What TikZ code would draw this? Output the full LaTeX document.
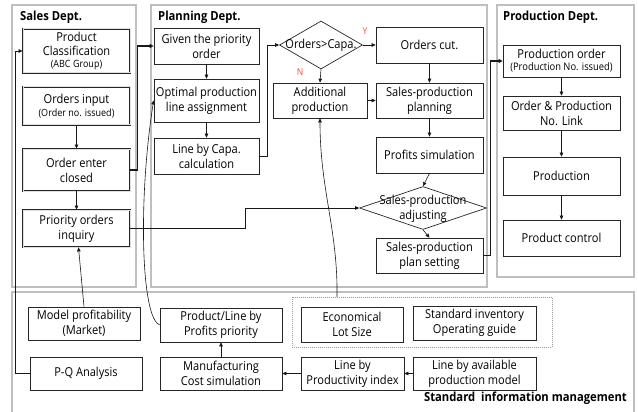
\documentclass[tikz,border=0pt]{standalone}
\usepackage{fontspec}
\setmainfont[FakeStretch=0.9]{Open Sans}
\usetikzlibrary{arrows.meta,shapes.geometric,calc}

\newcommand{\smalltxt}{\fontsize{10}{11}\selectfont}
\tikzset{
  panel/.style={draw=black!25, line width=1.1pt},
  box/.style={draw=black!85, line width=0.7pt, align=center, inner sep=0.5pt,
    font=\fontsize{12.3}{15}\selectfont},
  salesbox/.style={box, line width=0.85pt, double=white!88!black, double distance=1pt},
  dia/.style={diamond, draw=black!85, line width=0.7pt, inner sep=0pt},
  diatext/.style={align=center, inner sep=0pt, font=\fontsize{12.3}{15}\selectfont},
  title/.style={font=\fontsize{12.5}{15}\selectfont\bfseries, inner sep=0pt, anchor=west},
  yn/.style={font=\fontsize{9.5}{10}\selectfont, text=red!75!white, inner sep=0pt},
  arr/.style={draw=black!90, line width=0.6pt, -{Triangle[length=4pt,width=3.6pt]}},
  thickarr/.style={arr, line width=1.5pt, -{Triangle[length=4pt,width=4pt]}},
}
% box from its corners: (x1,y1) to (x2,y2) in pixels
\newcommand{\cornerbox}[6]{%
  \node[#1, minimum width={#4-#2}, minimum height={#5-#3}] (#6) at ({(#2+#4)/2},{(#3+#5)/2})}

\begin{document}
\begin{tikzpicture}[x=1pt, y=-1pt]
\useasboundingbox (0,0) rectangle (638,412);

% department panels
\draw[panel] (12,5) rectangle (136,287);
\draw[panel] (151,5) rectangle (487,287);
\draw[panel] (497,5) rectangle (634,277);
\begin{scope}
\clip (0,0) rectangle (638,412);
\draw[panel] (12,292) rectangle (634,430);
\end{scope}

\node[title] (tSales) at (20,17) {Sales Dept.};
\node[title] (tPlan) at (158,17) {Planning Dept.};
\node[title] (tProd) at (503,17) {Production Dept.};
\node[title, anchor=east] (tStd) at (627,398) {Standard\ \ information management};

% Sales Dept.
\cornerbox{salesbox}{23}{29}{130}{73}{pc} {Product\\[-1pt]Classification\\[-3pt]{\smalltxt (ABC Group)}};
\cornerbox{salesbox}{23}{87}{130}{125}{oi} {Orders input\\[-2pt]{\smalltxt (Order no. issued)}};
\cornerbox{salesbox}{23}{149}{130}{191}{oec} {Order enter\\closed};
\cornerbox{salesbox}{23}{210}{130}{247}{poi} {Priority orders\\inquiry};

% Planning Dept.
\cornerbox{box}{154}{28}{259}{64}{gp} {Given the priority\\order};
\cornerbox{box}{154}{79}{259}{122}{opl} {Optimal production\\line assignment};
\cornerbox{box}{154}{138}{259}{174}{lbc} {Line by Capa.\\calculation};
\node[dia, minimum width=83pt, minimum height=48pt] (d1) at (321,45) {};
\node[diatext] (d1t) at (d1) {Orders>Capa.};
\cornerbox{box}{376}{27}{483}{63}{oc} {Orders cut.};
\cornerbox{box}{273}{83}{367}{118}{ap} {Additional\\production};
\cornerbox{box}{376}{83}{483}{118}{spp} {Sales-production\\planning};
\cornerbox{box}{376}{137}{483}{173}{ps} {Profits simulation};
\node[dia, minimum width=127pt, minimum height=43pt] (d2) at (423,208) {};
\node[diatext] (d2t) at (423,209) {Sales-production\\adjusting};
\cornerbox{box}{376}{238}{483}{273}{sps} {Sales-production\\plan setting};
\node[yn] (ylab) at (365,31) {Y};
\node[yn] (nlab) at (300,72) {N};

% Production Dept.
\cornerbox{box}{503}{45}{620}{77}{po} {Production order\\[-3pt]{\fontsize{10.4}{11}\selectfont (Production No. issued)}};
\cornerbox{box}{503}{96}{620}{130}{opn} {Order \& Production\\No. Link};
\cornerbox{box}{503}{157}{620}{195}{prod} {Production};
\cornerbox{box}{503}{220}{620}{256}{pcon} {Product control};

% Standard information management
\cornerbox{box}{28}{307}{140}{340}{mp} {Model profitability\\(Market)};
\cornerbox{box}{160}{308}{282}{342}{plp} {Product/Line by\\Profits priority};
\node[draw=black!40, dashed, dash pattern=on 1pt off 1pt, line width=0.5pt,
  minimum width=260pt, minimum height=50pt, inner sep=0pt] (grp) at (422,322) {};
\cornerbox{box}{301}{307}{403}{342}{els} {Economical\\Lot Size};
\cornerbox{box}{413}{306}{536}{340}{sio} {Standard inventory\\Operating guide};
\cornerbox{box}{30}{357}{142}{390}{pq} {P-Q Analysis};
\cornerbox{box}{160}{357}{282}{390}{mcs} {Manufacturing\\Cost simulation};
\cornerbox{box}{301}{357}{404}{390}{lpi} {Line by\\Productivity index};
\cornerbox{box}{413}{357}{536}{390}{lapm} {Line by available\\production model};

% Sales flow
\draw[arr] (oi) -- (oec);
\draw[arr] (oec) -- (poi);
\draw[thickarr] (oec.east) -- ++(7,0) |- (gp.west);

% Planning flow
\draw[arr] (gp) -- (opl);
\draw[arr] (opl) -- (lbc);
\draw[arr] (lbc.east) -- ++(8,0) |- (d1.west);
\draw[arr] (d1.east) -- (oc.west);
\draw[arr] (d1.south) -- (ap.north);
\draw[arr] (ap.east) -- (spp.west);
\draw[arr] (oc) -- (spp);
\draw[arr] (spp) -- (ps);
\draw[arr] (ps.south) -- (d2.north);
\draw[arr] (d2.south) -- (sps.north);
\draw[arr] (poi.east) -- ++(115,0) |- (d2.west);
\draw[thickarr] (sps.east) -- ++(7,0) |- (po.west);

% Production flow
\draw[arr] (po) -- (opn);
\draw[arr] (opn) -- (prod);
\draw[arr] (prod) -- (pcon);

% Feedback from standard information
\draw[arr] (pq.west) -- ++(-14,0) |- (pc.west);
\draw[arr] (mp.north) -- ([xshift=2pt]poi.south);
\draw[arr] (plp.west) .. controls (141,318) and (138,200) .. (opl.west);
\draw[arr] ([xshift=-85pt]grp.north) .. controls (338,230) and (320,190) .. (ap.south);
\draw[arr] (mcs) -- (plp);
\draw[arr] (lpi) -- (mcs);
\draw[arr] (lapm) -- (lpi);
\end{tikzpicture}
\end{document}
